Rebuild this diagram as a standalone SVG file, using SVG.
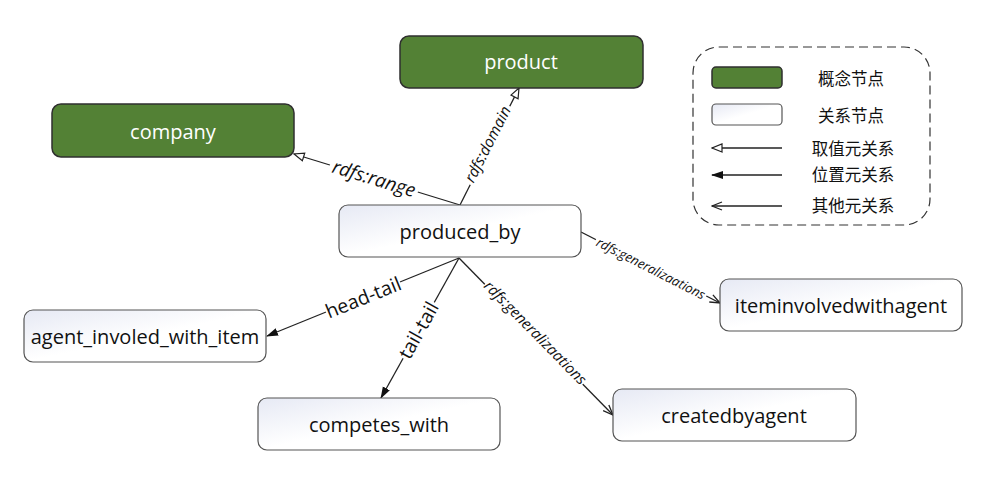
<svg xmlns="http://www.w3.org/2000/svg" width="983" height="484" viewBox="0 0 983 484">
<style>
.concept{fill:#538135;stroke:#2f2f2f;stroke-width:1.5}
.rel{fill:url(#g);stroke:#555;stroke-width:1.2}
.t{font-family:"Open Sans","Liberation Sans",sans-serif;font-size:20px;text-anchor:middle;dominant-baseline:central;fill:#111}
.tw{fill:#fff}
.e{stroke:#222;stroke-width:1.3;fill:none}
.lb{font-family:"Open Sans","Liberation Sans",sans-serif;text-anchor:middle;dominant-baseline:central;fill:#111}
.lg{font-family:"Noto Sans CJK SC",sans-serif;font-size:16.5px;text-anchor:middle;dominant-baseline:central;fill:#111}
</style>
<defs>
<linearGradient id="g" x1="0" y1="0" x2="1" y2="1">
<stop offset="0" stop-color="#e6e9f4"/><stop offset="0.5" stop-color="#ffffff"/><stop offset="1" stop-color="#ffffff"/>
</linearGradient>
<marker id="hollow" viewBox="0 0 12 10" refX="11" refY="5" markerWidth="12" markerHeight="10" markerUnits="userSpaceOnUse" orient="auto">
<path d="M1,1 L11,5 L1,9 Z" fill="#fff" stroke="#222" stroke-width="1.2"/>
</marker>
<marker id="filled" viewBox="0 0 12 10" refX="11" refY="5" markerWidth="12" markerHeight="10" markerUnits="userSpaceOnUse" orient="auto">
<path d="M0,1 L12,5 L0,9 Z" fill="#111"/>
</marker>
<marker id="open" viewBox="0 0 12 10" refX="11" refY="5" markerWidth="12" markerHeight="10" markerUnits="userSpaceOnUse" orient="auto">
<path d="M1,1 L11,5 L1,9" fill="none" stroke="#222" stroke-width="1.3"/>
</marker>
</defs>
<rect width="983" height="484" fill="#fff"/>

<g id="connectors">
<line class="e" x1="460" y1="205" x2="294" y2="154" marker-end="url(#hollow)"/>
<line class="e" x1="460" y1="205" x2="519" y2="88" marker-end="url(#hollow)"/>
<line class="e" x1="581" y1="232" x2="720" y2="303" marker-end="url(#open)"/>
<line class="e" x1="459" y1="258" x2="267" y2="336" marker-end="url(#filled)"/>
<line class="e" x1="459" y1="258" x2="381" y2="398" marker-end="url(#filled)"/>
<line class="e" x1="459" y1="258" x2="613" y2="415" marker-end="url(#open)"/>

<g transform="translate(374,178) rotate(17)">
<rect x="-46" y="-11" width="92" height="22" fill="#fff"/>
<text class="lb" font-size="19" font-style="italic">rdfs:range</text>
</g>
<g transform="translate(487,144) rotate(-63)">
<rect x="-44" y="-9" width="88" height="18" fill="#fff"/>
<text class="lb" font-size="15.5" font-style="italic">rdfs:domain</text>
</g>
<g transform="translate(651,268) rotate(27)">
<rect x="-62" y="-8" width="124" height="16" fill="#fff"/>
<text class="lb" font-size="13" font-style="italic">rdfs:generalizaations</text>
</g>
<g transform="translate(363,297) rotate(-22)">
<rect x="-40" y="-11" width="80" height="22" fill="#fff"/>
<text class="lb" font-size="19.5">head-tail</text>
</g>
<g transform="translate(418,330) rotate(-61)">
<rect x="-32" y="-11" width="64" height="22" fill="#fff"/>
<text class="lb" font-size="19.5">tail-tail</text>
</g>
<g transform="translate(536,332) rotate(45.5)">
<rect x="-70" y="-9" width="140" height="18" fill="#fff"/>
<text class="lb" font-size="15" font-style="italic">rdfs:generalizaations</text>
</g>
</g>

<g id="product">
<rect class="concept" x="400" y="36" width="243" height="52" rx="9"/>
<text class="t tw" x="521" y="61">product</text>
</g>
<g id="company">
<rect class="concept" x="52" y="104" width="242" height="53" rx="9"/>
<text class="t tw" x="173" y="131">company</text>
</g>
<g id="produced_by">
<rect class="rel" x="339" y="205" width="242" height="52" rx="9"/>
<text class="t" x="460" y="231">produced_by</text>
</g>
<g id="agent_involed_with_item">
<rect class="rel" x="24" y="310" width="242" height="52" rx="9"/>
<text class="t" x="145" y="336">agent_involed_with_item</text>
</g>
<g id="competes_with">
<rect class="rel" x="258" y="398" width="242" height="52" rx="9"/>
<text class="t" x="379" y="424">competes_with</text>
</g>
<g id="createdbyagent">
<rect class="rel" x="613" y="389" width="243" height="52" rx="9"/>
<text class="t" x="734" y="415">createdbyagent</text>
</g>
<g id="iteminvolvedwithagent">
<rect class="rel" x="720" y="279" width="242" height="52" rx="9"/>
<text class="t" x="841" y="305">iteminvolvedwithagent</text>
</g>

<g id="legend">
<rect x="693" y="47" width="237" height="178" rx="26" fill="none" stroke="#333" stroke-width="1.2" stroke-dasharray="9,5"/>
<rect class="concept" x="712" y="67" width="70" height="21" rx="4"/>
<text class="lg" x="851" y="78">概念节点</text>
<rect class="rel" x="712" y="104" width="70" height="21" rx="4"/>
<text class="lg" x="851" y="115">关系节点</text>
<line class="e" x1="782" y1="148" x2="712" y2="148" marker-end="url(#hollow)"/>
<text class="lg" x="853" y="148">取值元关系</text>
<line class="e" x1="782" y1="175" x2="712" y2="175" marker-end="url(#filled)"/>
<text class="lg" x="853" y="174">位置元关系</text>
<line class="e" x1="782" y1="206" x2="712" y2="206" marker-end="url(#open)"/>
<text class="lg" x="853" y="205">其他元关系</text>
</g>
</svg>
